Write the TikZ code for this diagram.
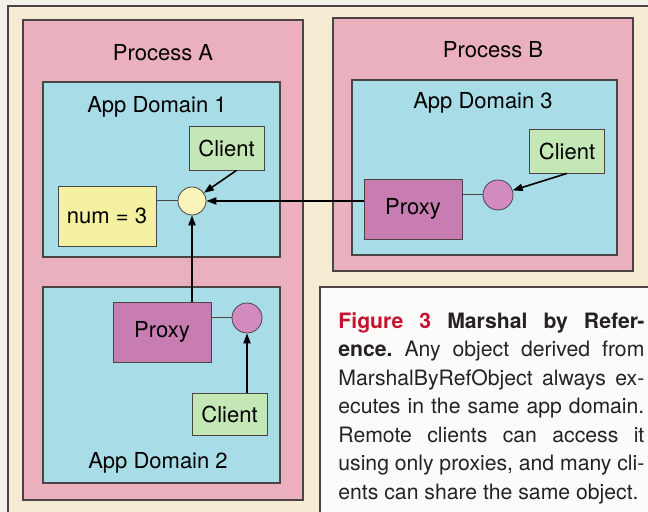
\documentclass[tikz,border=0pt]{standalone}
\usepackage{fontspec}
\setmainfont{TeX Gyre Heros}
\usetikzlibrary{arrows.meta}
\definecolor{paper}{HTML}{F3F1EC}
\definecolor{cream}{HTML}{F5ECD3}
\definecolor{edge}{HTML}{4A4446}
\definecolor{procpink}{HTML}{EAB0BD}
\definecolor{domcyan}{HTML}{A8DCE6}
\definecolor{clientgreen}{HTML}{C4E7B6}
\definecolor{numyellow}{HTML}{F4F2A2}
\definecolor{objyellow}{HTML}{F8F4BA}
\definecolor{proxypurple}{HTML}{C87DB2}
\definecolor{portpink}{HTML}{D18BBF}
\definecolor{capred}{HTML}{C4122F}
\definecolor{captext}{HTML}{262224}
\begin{document}
\begin{tikzpicture}[
	x=0.5pt, y=-0.5pt,
	font=\fontsize{11}{13}\selectfont,
	proc/.style={rectangle,draw=edge,fill=procpink,line width=0.6pt},
	dom/.style={rectangle,draw=edge,fill=domcyan,line width=0.6pt},
	client/.style={rectangle,draw=edge,fill=clientgreen,minimum width=37.5pt,minimum height=22pt,inner sep=0pt},
	proxy/.style={rectangle,draw=edge,fill=proxypurple,minimum width=49pt,minimum height=30pt,inner sep=0pt},
	port/.style={circle,draw=edge,fill=portpink,minimum size=15pt,inner sep=0pt},
	link/.style={draw=edge,line width=0.5pt},
	call/.style={-{Triangle[length=5pt,width=3.6pt]},line width=0.8pt,black},
	]
\useasboundingbox (0,0) rectangle (648,512);
\clip (0,0) rectangle (648,512);
% page and frame
\fill [paper] (0,0) rectangle (648,512);
\filldraw [fill=cream,draw=edge,line width=0.8pt] (8,6) rectangle (660,520);
% processes
\node [proc,minimum width=140pt,minimum height=240pt] (procA) at (163,260) {};
\node [proc,minimum width=150pt,minimum height=126.5pt] (procB) at (483,144.5) {};
\node (procAlbl) at (163,53) {Process A};
\node (procBlbl) at (493,50) {Process B};
% app domains
\node [dom,minimum width=118.5pt,minimum height=87.5pt] (dom1) at (161.5,169.5) {};
\node [dom,minimum width=118.5pt,minimum height=98pt] (dom2) at (161.5,385) {};
\node [dom,minimum width=132.5pt,minimum height=87.5pt] (dom3) at (484.5,167.5) {};
\node (dom1lbl) at (157,107) {App Domain 1};
\node (dom2lbl) at (158,463) {App Domain 2};
\node (dom3lbl) at (483,103) {App Domain 3};
% app domain 1
\node [rectangle,draw=edge,fill=numyellow,minimum width=49pt,minimum height=30pt,inner sep=0pt] (num) at (107,216) {num = 3};
\node [circle,draw=edge,fill=objyellow,minimum size=14pt,inner sep=0pt] (obj) at (192,201) {};
\node [client] (client1) at (226.5,148) {Client};
% app domain 3
\node [proxy] (proxy3) at (413,209) {Proxy};
\node [port] (port3) at (498,195) {};
\node [client] (client3) at (567,151) {Client};
% app domain 2
\node [proxy] (proxy2) at (162,332) {Proxy};
\node [port] (port2) at (247,318) {};
\node [client,minimum height=21pt] (client2) at (229.5,414) {Client};
% connectors
\draw [link] (num.east |- obj) -- (obj);
\draw [link] (proxy3.east |- port3) -- (port3);
\draw [link] (proxy2.east |- port2) -- (port2);
\draw [call] ([xshift=5pt]client1.south) -- (obj);
\draw [call] (proxy3.west |- obj) -- (obj);
\draw [call] (proxy2.north -| obj) -- (obj);
\draw [call] (client3.south) -- (port3);
\draw [call] (client2.north -| port2) -- (port2);
% caption
\filldraw [fill=white!70!paper,draw=edge,line width=1pt] (320,287) rectangle (660,520);
\node [anchor=north west,text width=153pt,align=justify,inner sep=0pt,text=captext,
  font=\fontsize{10.6}{14.25}\selectfont] (caption) at (338,312)
  {\frenchspacing\hyphenpenalty=10000\parfillskip=0pt
   {\color{capred}\bfseries Figure 3} {\bfseries Marshal by Refer-\linebreak
   ence.} Any object derived from\linebreak
   MarshalByRefObject always ex-\linebreak
   ecutes in the same app domain.\linebreak
   Remote clients can access it\linebreak
   using only proxies, and many cli-\linebreak
   ents can share the same object.};
\end{tikzpicture}
\end{document}
